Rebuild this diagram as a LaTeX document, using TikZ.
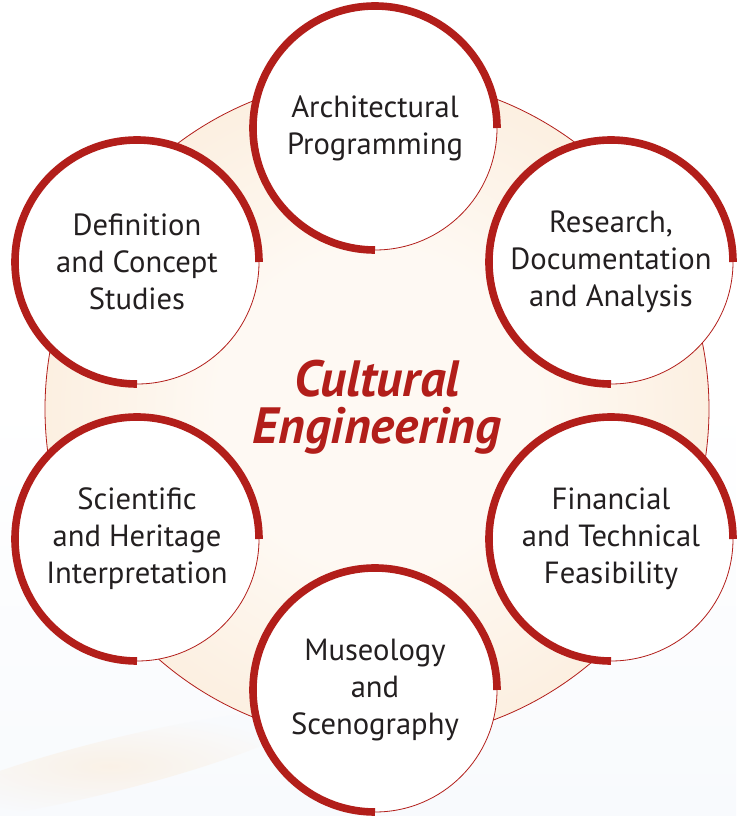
\documentclass[tikz,border=0pt]{standalone}
\usepackage{fontspec}
\setmainfont{PT Sans}
\definecolor{ceRed}{RGB}{178,30,26}
\definecolor{cePeach}{RGB}{248,221,190}
\definecolor{ceCream}{RGB}{254,249,243}
\definecolor{ceText}{RGB}{35,31,32}
\definecolor{ceMist}{RGB}{248,250,253}
\pgfdeclareradialshading{ceglow}{\pgfpoint{0bp}{0bp}}{color(0bp)=(ceCream); color(12bp)=(ceCream); color(50bp)=(cePeach)}
\tikzset{
  topic/.style={circle, draw=ceRed, line width=0.4pt, fill=white, minimum size=122pt,
    inner sep=0pt, outer sep=0pt, align=center, text=ceText,
    font=\fontsize{15.3}{18.5}\selectfont},
  rim/.style={draw=ceRed, line width=3.8pt},
}
\begin{document}
\begin{tikzpicture}[x=0.5pt,y=0.5pt]
\useasboundingbox (0,0) rectangle (736,816);
% page background
\fill[white] (0,0) rectangle (736,816);
\shade[top color=white, bottom color=ceMist] (0,0) rectangle (736,420);
\shade[inner color=cePeach!60, outer color=ceMist, rotate around={14:(110,50)}, opacity=.6]
  (110,50) ellipse[x radius=200, y radius=26];
% big disc
\shadedraw[shading=ceglow, draw=ceRed, line width=0.4pt] (377,407) circle[radius=166pt];
\node[text=ceRed, font=\fontsize{25.5}{23.5}\selectfont\bfseries\itshape, align=center] (title) at (377,409) {Cultural\\Engineering};
% the six topics
\node[topic] (arch) at (375,688) {Architectural\\Programming};
\node[topic] (res) at (611,554) {Research,\\Documentation\\and Analysis};
\node[topic] (fin) at (611,277) {Financial\\and Technical\\Feasibility};
\node[topic] (mus) at (375,126) {Museology\\and\\Scenography};
\node[topic] (sci) at (137,277) {Scientific\\and Heritage\\Interpretation};
\node[topic] (def) at (137,554) {Definition\\and Concept\\Studies};
\foreach \n in {arch,res,fin,mus,sci,def}
  \draw[rim] (\n.east) arc[start angle=0, end angle=270, radius=61pt];
\end{tikzpicture}
\end{document}
